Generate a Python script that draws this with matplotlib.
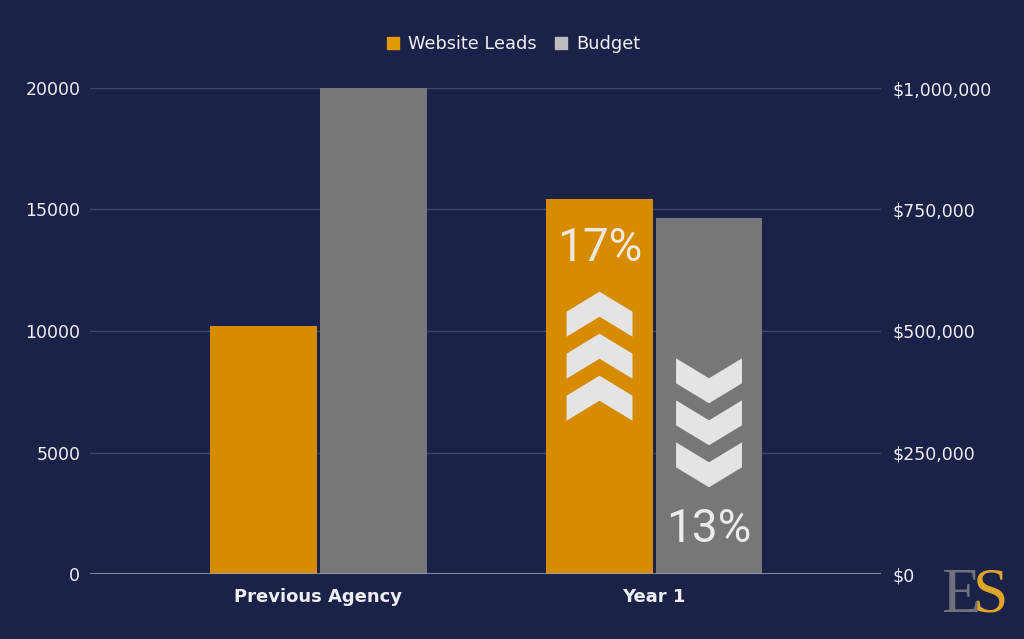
import matplotlib
matplotlib.use("Agg")
import matplotlib.pyplot as plt
from matplotlib.patches import Polygon
from matplotlib.lines import Line2D
import numpy as np

# ---- data ----
categories = ["Previous Agency", "Year 1"]
website_leads = [10200, 15450]
budget = [1000000, 733000]
left_ticks = [0, 5000, 10000, 15000, 20000]
right_ticks = [0, 250000, 500000, 750000, 1000000]
right_tick_labels = ["$0", "$250,000", "$500,000", "$750,000", "$1,000,000"]
pct_labels = ["17%", "13%"]

BG = "#1a2248"
ORANGE = "#d68b00"
GRAY = "#777777"
TXT = "#eef0f4"

fig = plt.figure(figsize=(10.24, 6.39), dpi=100, facecolor=BG)
ax = fig.add_axes([90/1024, 1-574/639, (881-90)/1024, (574-88)/639])
ax.set_facecolor(BG)
ax2 = ax.twinx()

x = np.arange(len(categories))
w = 0.318
off = 0.163
ax.bar(x - off, website_leads, width=w, color=ORANGE, zorder=3)
ax2.bar(x + off, budget, width=w, color=GRAY, zorder=3)

ax.set_xlim(-0.68, 1.675)
ax.set_ylim(0, 20000)
ax2.set_ylim(0, 1000000)
ax.set_yticks(left_ticks)
ax.set_yticklabels([str(v) for v in left_ticks])
ax2.set_yticks(right_ticks)
ax2.set_yticklabels(right_tick_labels)
ax.set_xticks(x)
ax.set_xticklabels(categories, fontweight="bold")

for a in (ax, ax2):
    for s in a.spines.values():
        s.set_visible(False)
ax.tick_params(axis="y", length=0, pad=7, labelsize=12.5, labelcolor=TXT)
ax2.tick_params(axis="y", length=0, pad=8, labelsize=12.5, labelcolor=TXT)
ax.tick_params(axis="x", length=0, pad=10, labelsize=13, labelcolor=TXT)

for v in left_ticks[1:]:
    ax.axhline(v, color="#3e4670", lw=1, zorder=1)
ax2.axhline(0, color="#9aa0b8", lw=1.2, zorder=4)

# legend
handles = [Line2D([], [], marker="s", ls="", color="#e09a00", markersize=9),
           Line2D([], [], marker="s", ls="", color="#bdbdbd", markersize=9)]
leg = fig.legend(handles, ["Website Leads", "Budget"], loc="center",
                 bbox_to_anchor=(0.5, 1-44/639), ncol=2, frameon=False,
                 fontsize=12.8, handletextpad=0.35, columnspacing=0.9,
                 handlelength=1.0)
for t in leg.get_texts():
    t.set_color(TXT)

# chevrons (decorations) in leads-axis data units, drawn on top axes
px_y = 20000/486.0   # leads units per pixel
px_x = 1/336.4       # category units per pixel
hw = 33*px_x
t = 25*px_y
rise = 20*px_y
chev_color = "#e4e4e4"

def up_chevron(cx, apex):
    pts = [(cx-hw, apex-rise-t), (cx-hw, apex-rise), (cx, apex),
           (cx+hw, apex-rise), (cx+hw, apex-rise-t), (cx, apex-t)]
    ax2.add_patch(Polygon(pts, closed=True, color=chev_color, zorder=5, lw=0,
                          transform=ax.transData))

def down_chevron(cx, top):
    pts = [(cx-hw, top), (cx-hw, top-t), (cx, top-t-rise),
           (cx+hw, top-t), (cx+hw, top), (cx, top-rise)]
    ax2.add_patch(Polygon(pts, closed=True, color=chev_color, zorder=5, lw=0,
                          transform=ax.transData))

cx_up = x[1] - off
cx_dn = x[1] + off
for k in range(3):
    up_chevron(cx_up, (574-291.7-42*k)*px_y)
    down_chevron(cx_dn, (574-358.3-42*k)*px_y)

ax2.text(cx_up, (574-248)*px_y, pct_labels[0], ha="center", va="center",
         fontsize=33, color="#f0e8dc", family="Roboto", fontweight="normal",
         zorder=6, transform=ax.transData)
ax2.text(cx_dn, (574-529)*px_y, pct_labels[1], ha="center", va="center",
         fontsize=33, color="#ececec", family="Roboto", fontweight="normal",
         zorder=6, transform=ax.transData)

# logo
fig.text(941/1024, 1-612/639, "E", color="#6e727c", family="Liberation Serif",
         fontsize=46, ha="left", va="baseline")
fig.text(973/1024, 1-612/639, "S", color="#e0a526", family="Liberation Serif",
         fontsize=46, ha="left", va="baseline")

fig.savefig("out.png", dpi=100, facecolor=BG)
